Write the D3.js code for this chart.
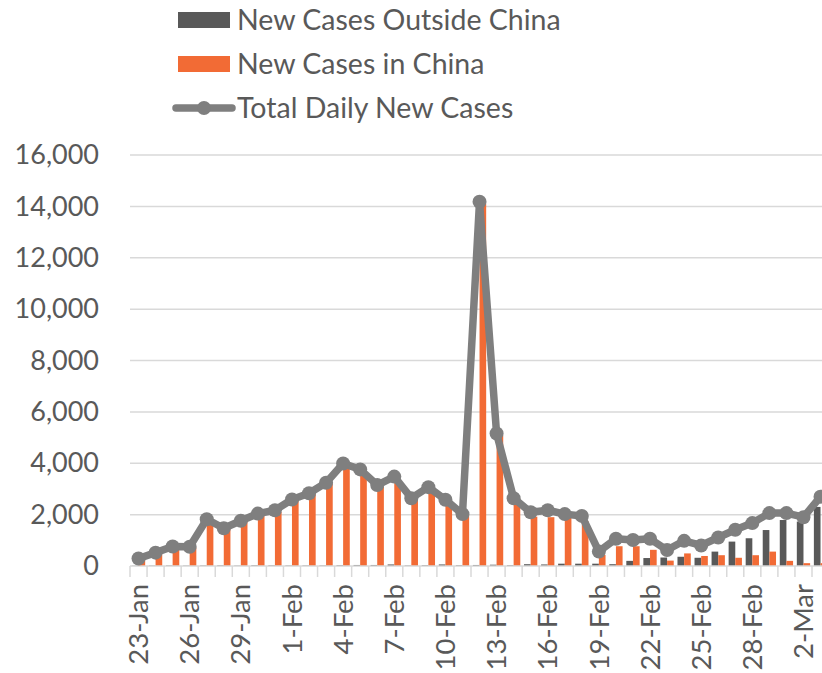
<!DOCTYPE html>
<html>
<head>
<meta charset="utf-8">
<script src="https://cdn.jsdelivr.net/npm/d3@7"></script>
<style>
  body { margin: 0; background: #fff; }
  svg { display: block; font-family: Lato, "Open Sans", sans-serif; }
</style>
</head>
<body>
<div id="chart"></div>
<script>
// daily categories, 23-Jan .. 3-Mar (2020)
const dates = [
    "23-Jan", "24-Jan", "25-Jan", "26-Jan", "27-Jan", "28-Jan", "29-Jan", "30-Jan", "31-Jan",
    "1-Feb", "2-Feb", "3-Feb", "4-Feb", "5-Feb", "6-Feb", "7-Feb", "8-Feb", "9-Feb", "10-Feb",
    "11-Feb", "12-Feb", "13-Feb", "14-Feb", "15-Feb", "16-Feb", "17-Feb", "18-Feb", "19-Feb",
    "20-Feb", "21-Feb", "22-Feb", "23-Feb", "24-Feb", "25-Feb", "26-Feb", "27-Feb", "28-Feb",
    "29-Feb", "1-Mar", "2-Mar", "3-Mar"
];
const outsideChina = [
    10, 15, 20, 15, 20, 25, 15, 30, 25,
    20, 20, 20, 30, 40, 40, 60, 20, 30, 60,
    30, 40, 50, 30, 70, 60, 90, 90, 90,
    70, 200, 310, 330, 360, 320, 560, 950, 1080,
    1400, 1790, 1730, 2300
];
const inChina = [
    260, 450, 690, 720, 1770, 1440, 1720, 1980, 2100,
    2570, 2800, 3220, 3880, 3700, 3100, 3400, 2620, 3040, 2480,
    2000, 14100, 5080, 2620, 1920, 1900, 1880, 1750, 430,
    770, 770, 630, 210, 490, 390, 420, 320, 420,
    560, 200, 110, 110
];
const totalDaily = [
    290, 520, 760, 750, 1820, 1470, 1760, 2040, 2170,
    2590, 2830, 3240, 3990, 3760, 3150, 3480, 2640, 3070, 2580,
    2020, 14180, 5160, 2640, 2090, 2170, 2020, 1950, 560,
    1060, 1010, 1060, 620, 980, 800, 1110, 1410, 1670,
    2060, 2060, 1900, 2700
];
const yTicks = [0, 2000, 4000, 6000, 8000, 10000, 12000, 14000, 16000];
const seriesNames = ["New Cases Outside China", "New Cases in China", "Total Daily New Cases"];

const colors = {
    outside: "#595959",
    china: "#f26b35",
    total: "#7f7f7f",
    grid: "#d9d9d9",
    text: "#595959"
};

const W = 822, H = 673;
const left = 130, bandW = 17.05, y0 = 566, yTop = 155;

const svg = d3.select("#chart").append("svg")
    .attr("width", W)
    .attr("height", H)
    .attr("viewBox", [0, 0, W, H]);

const x = d3.scaleBand()
    .domain(dates)
    .range([left, left + bandW * dates.length])
    .paddingInner(0)
    .paddingOuter(0);

const y = d3.scaleLinear()
    .domain([0, 16000])
    .range([y0, yTop]);

const barW = x.bandwidth() * 0.39;
const xc = d => x(d) + x.bandwidth() / 2;

// gridlines
svg.append("g")
    .selectAll("line")
    .data(yTicks.slice(1))
    .join("line")
    .attr("x1", left)
    .attr("x2", W)
    .attr("y1", d => y(d))
    .attr("y2", d => y(d))
    .attr("stroke", colors.grid)
    .attr("stroke-width", 1.5);

// y axis labels
const yAxis = svg.append("g")
    .attr("transform", `translate(${left - 31},0)`)
    .call(d3.axisLeft(y).tickValues(yTicks).tickFormat(d3.format(",")).tickSize(0).tickPadding(0));
yAxis.select(".domain").remove();
yAxis.selectAll("text")
    .attr("fill", colors.text)
    .attr("font-size", 27)
    .attr("font-family", "Lato, sans-serif");

// bars
svg.append("g")
    .selectAll("rect")
    .data(dates)
    .join("rect")
    .attr("x", d => xc(d) - barW)
    .attr("width", barW)
    .attr("y", (d, i) => y(outsideChina[i]))
    .attr("height", (d, i) => y0 - y(outsideChina[i]))
    .attr("fill", colors.outside);

svg.append("g")
    .selectAll("rect")
    .data(dates)
    .join("rect")
    .attr("x", d => xc(d))
    .attr("width", barW)
    .attr("y", (d, i) => y(inChina[i]))
    .attr("height", (d, i) => y0 - y(inChina[i]))
    .attr("fill", colors.china);

// x axis
const xAxis = svg.append("g")
    .attr("transform", `translate(0,${y0})`);
xAxis.append("line")
    .attr("x1", left)
    .attr("x2", W)
    .attr("stroke", colors.grid)
    .attr("stroke-width", 1.5);
xAxis.selectAll("line.tick")
    .data(dates)
    .join("line")
    .attr("class", "tick")
    .attr("x1", d => x(d))
    .attr("x2", d => x(d))
    .attr("y1", 0)
    .attr("y2", 11)
    .attr("stroke", colors.grid)
    .attr("stroke-width", 1.5);
xAxis.selectAll("text")
    .data(dates.filter((d, i) => i % 3 === 0))
    .join("text")
    .attr("transform", d => `translate(${xc(d)},18) rotate(-90)`)
    .attr("text-anchor", "end")
    .attr("dy", "0.35em")
    .attr("fill", colors.text)
    .attr("font-size", 27.5)
    .text(d => d);

// total line
const line = d3.line()
    .x((d, i) => xc(dates[i]))
    .y(d => y(d));

svg.append("path")
    .datum(totalDaily)
    .attr("d", line)
    .attr("fill", "none")
    .attr("stroke", colors.total)
    .attr("stroke-width", 7.5)
    .attr("stroke-linejoin", "round");

svg.append("g")
    .selectAll("circle")
    .data(totalDaily)
    .join("circle")
    .attr("cx", (d, i) => xc(dates[i]))
    .attr("cy", d => y(d))
    .attr("r", 7)
    .attr("fill", colors.total);

// legend
const legend = svg.append("g");
const rows = [20, 64, 108];
legend.append("rect").attr("x", 178).attr("y", rows[0] - 8).attr("width", 52).attr("height", 16).attr("fill", colors.outside);
legend.append("rect").attr("x", 178).attr("y", rows[1] - 8).attr("width", 52).attr("height", 16).attr("fill", colors.china);
legend.append("line").attr("x1", 176).attr("x2", 232).attr("y1", rows[2]).attr("y2", rows[2])
    .attr("stroke", colors.total).attr("stroke-width", 7.5).attr("stroke-linecap", "round");
legend.append("circle").attr("cx", 204).attr("cy", rows[2]).attr("r", 7).attr("fill", colors.total);
legend.selectAll("text")
    .data(seriesNames)
    .join("text")
    .attr("x", 237)
    .attr("y", (d, i) => rows[i])
    .attr("dy", "0.35em")
    .attr("fill", colors.text)
    .attr("font-size", 28.5)
    .text(d => d);
</script>
</body>
</html>
